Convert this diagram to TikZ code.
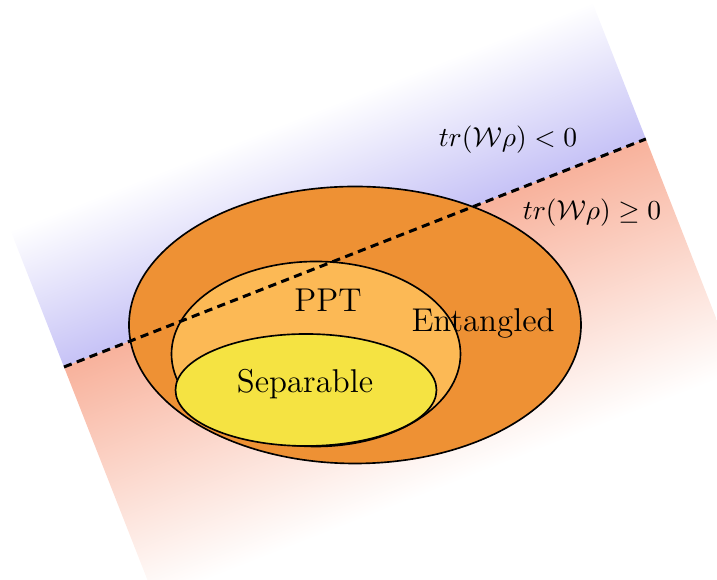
\documentclass[tikz,border=0pt]{standalone}
\usepackage{amsmath,amssymb}
\usepackage{xcolor}
\usepackage{tikz}
\usetikzlibrary{positioning,calc}
\definecolor{WitnessBlue}{HTML}{C6C2F6}
\definecolor{WitnessSalmon}{HTML}{F8B29C}
\definecolor{EntangledOrange}{HTML}{EE9134}
\definecolor{PptOrange}{HTML}{FCB955}
\definecolor{SepYellow}{HTML}{F5E342}

\begin{document}
\begin{tikzpicture}[x=0.0128cm,y=0.0128cm]
  \path[use as bounding box] (0,0) rectangle (717,580);
  \tikzset{
    wtSet/.style={draw=black, line width=.6pt},
    wtName/.style={font=\large, text=black, inner sep=1pt},
    wtSide/.style={font=\normalsize, text=black, inner sep=1pt},
    wtWitness/.style={draw=black, line width=1.1pt, densely dashed}
  }

  % half spaces of the witness
  \begin{scope}[transform canvas={shift={(64,213)}, rotate=21.4}]
    \shade[top color=white, bottom color=WitnessBlue]
      (0,0) rectangle (625,147);
    \shade[top color=WitnessSalmon, bottom color=white]
      (0,-250) rectangle (625,0);
  \end{scope}
  \coordinate (wLeft) at (64,213);
  \coordinate (wRight) at ($(wLeft)+(21.4:625)$);

  % sets
  \draw[wtSet, fill=EntangledOrange] (355,255) ellipse [x radius=226, y radius=138.5];
  \draw[wtSet, fill=PptOrange] (316,226) ellipse [x radius=144.5, y radius=92.5];
  \draw[wtSet, fill=SepYellow] (306,190) ellipse [x radius=130.5, y radius=56];

  \draw[wtWitness] (wLeft) -- (wRight);

  \node[wtName] (ppt) at (328,280) {PPT};
  \node[wtName] (entangled) at (483,257) {Entangled};
  \node[wtName] (separable) at (305,196) {Separable};
  \node[wtSide] (negative) at (508,440) {$tr(\mathcal{W}\rho) < 0$};
  \node[wtSide] (positive) at (592,367) {$tr(\mathcal{W}\rho) \geq 0$};
\end{tikzpicture}
\end{document}
